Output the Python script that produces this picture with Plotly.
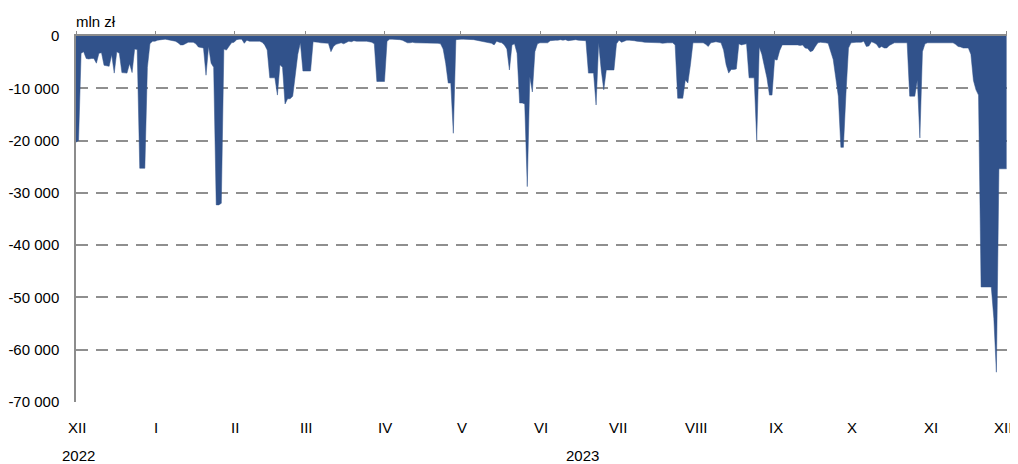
import plotly.graph_objects as go
import pandas as pd

# ---- data (mln zł, daily values) ----
start_date = "2022-12-01"

dec_2022 = [-20300, -20000, -3300, -3000, -4300, -4400, -4300, -4300, -5200, -3300,
            -3200, -5600, -5700, -5800, -3600, -7100, -3000, -3300, -7000, -7000,
            -7100, -5300, -7000, -2500, -2600, -25300, -25300, -25300, -6000, -1500,
            -1000]
jan_2023 = [-1000, -800, -700, -700, -600, -700, -800, -1000, -1000, -1300,
            -1700, -1700, -1400, -1200, -1200, -1200, -1500, -2100, -2200, -2300,
            -7500, -2000, -5200, -6000, -32300, -32300, -32000, -2500, -2700, -2000,
            -1300]
feb_2023 = [-1200, -700, -600, -600, -1400, -800, -1000, -1000, -1000, -900,
            -1000, -1200, -1700, -2700, -8000, -8000, -8000, -11300, -5500, -6000,
            -13000, -12000, -12000, -11500, -7000, -3500, -1300, -6700]
mar_2023 = [-6700, -6700, -6700, -1100, -1100, -1200, -1300, -1300, -1300, -1400,
            -3000, -2000, -1600, -1500, -1300, -1500, -1200, -1000, -1100, -900,
            -1000, -1000, -900, -1000, -1000, -1100, -1200, -1500, -8700, -8700,
            -8700]
apr_2023 = [-8700, -1000, -600, -600, -600, -600, -700, -800, -1100, -1300,
            -1300, -1200, -1300, -1300, -1400, -1300, -1300, -1300, -1400, -1300,
            -1300, -1400, -1500, -2500, -5200, -9000, -9000, -18600, -700, -600]
may_2023 = [-600, -600, -600, -700, -600, -700, -800, -900, -1000, -1100,
            -1200, -1300, -1400, -1700, -1000, -1200, -1300, -1700, -2500, -6500,
            -1700, -1500, -3300, -12800, -12800, -13000, -28800, -7800, -10700, -3000,
            -1500]
jun_2023 = [-1300, -1300, -1200, -1300, -900, -800, -800, -800, -700, -800,
            -700, -900, -800, -800, -700, -800, -800, -800, -900, -7100,
            -7100, -7100, -13200, -1300, -6500, -10300, -6500, -6500, -6500, -6500]
jul_2023 = [-1500, -800, -1200, -1000, -800, -800, -800, -900, -1000, -1000,
            -1100, -1200, -1200, -1300, -1300, -1300, -1300, -1300, -1400, -1300,
            -1300, -1300, -1300, -1700, -11900, -11900, -11900, -8400, -9000, -5500,
            -1300]
aug_2023 = [-1300, -1300, -1300, -1300, -1600, -2000, -1300, -1200, -1100, -1200,
            -1300, -2700, -5500, -7100, -6400, -6400, -6300, -1500, -1700, -1600,
            -1500, -8000, -8000, -8000, -19900, -2100, -3500, -5500, -8000, -11300,
            -11300]
sep_2023 = [-4500, -4600, -2800, -1700, -1700, -1700, -1600, -1700, -1600, -1700,
            -1800, -1700, -2300, -2400, -3000, -2800, -2000, -1300, -1200, -1200,
            -1300, -1400, -2800, -4500, -8000, -11500, -21300, -21300, -11000, -2300]
oct_2023 = [-1300, -1200, -1200, -1200, -1200, -1000, -2000, -1900, -1100, -1300,
            -1600, -2300, -2000, -2300, -2300, -1800, -1500, -1300, -1300, -1300,
            -1300, -1300, -1300, -11500, -11500, -11500, -8400, -19500, -3000, -1500,
            -1300]
nov_2023 = [-1300, -1200, -1200, -1200, -1200, -1200, -1200, -1200, -1200, -1300,
            -1600, -2000, -2100, -2300, -2300, -2300, -3500, -8500, -10300, -11300,
            -48000, -48000, -48000, -48000, -48000, -54000, -64300, -25400, -25400, -25400]
dec_2023 = [-25400]

month_starts = ["2022-12-01", "2023-01-01", "2023-02-01", "2023-03-01", "2023-04-01",
                "2023-05-01", "2023-06-01", "2023-07-01", "2023-08-01", "2023-09-01",
                "2023-10-01", "2023-11-01", "2023-12-01"]
month_labels = ["XII", "I", "II", "III", "IV", "V", "VI", "VII", "VIII", "IX", "X", "XI", "XII"]
year_positions = ["2022-12-01", "2023-06-17"]
year_labels = ["2022", "2023"]
y_ticks = [0, -10000, -20000, -30000, -40000, -50000, -60000, -70000]
y_unit = "mln zł"

values = (dec_2022 + jan_2023 + feb_2023 + mar_2023 + apr_2023 + may_2023 + jun_2023
          + jul_2023 + aug_2023 + sep_2023 + oct_2023 + nov_2023 + dec_2023)
dates = pd.date_range(start_date, periods=len(values), freq="D")

BLUE = "#31528B"
AXIS = "#8c8c8c"
GRID = "#8f8f8f"
FONT = "Liberation Sans, Arial, sans-serif"

fig = go.Figure()
fig.add_trace(go.Scatter(
    x=dates, y=values, mode="lines", fill="tozeroy",
    line=dict(color=BLUE, width=0.5), fillcolor=BLUE, hoverinfo="skip",
    showlegend=False,
))

def fmt(v):
    return f"{v:,}".replace(",", " ")

annotations = []
n_months = len(month_starts)
for i, (d, lbl) in enumerate(zip(month_starts, month_labels)):
    shift = -4 if i == n_months - 1 else 1
    annotations.append(dict(x=d, y=-0.071, xref="x", yref="paper", text=lbl,
                            showarrow=False, xanchor="center", yanchor="middle",
                            xshift=shift, font=dict(size=15, color="#000000", family=FONT)))
for d, lbl in zip(year_positions, year_labels):
    annotations.append(dict(x=d, y=-0.145, xref="x", yref="paper", text=lbl,
                            showarrow=False, xanchor="center", yanchor="middle",
                            xshift=2, font=dict(size=15, color="#000000", family=FONT)))
annotations.append(dict(x=0, y=1.04, xref="paper", yref="paper", text=y_unit,
                        showarrow=False, xanchor="left", yanchor="middle", xshift=-2,
                        font=dict(size=15, color="#000000", family=FONT)))

# the page body has an 8px default margin, so the figure is sized/offset to compensate
fig.update_layout(
    width=1010, height=456,
    margin=dict(l=68, r=11, t=28, b=62, autoexpand=False),
    paper_bgcolor="white", plot_bgcolor="white",
    font=dict(family=FONT, size=15, color="#000000"),
    xaxis=dict(
        type="date", range=["2022-12-01", "2023-12-01 04:00"],
        side="top", showline=True, linecolor=AXIS, linewidth=2,
        ticks="outside", ticklen=3, tickcolor=AXIS, tickwidth=1,
        tickvals=month_starts, showticklabels=False,
        showgrid=False, zeroline=False, automargin=False,
    ),
    yaxis=dict(
        range=[-70000, 0], tickvals=y_ticks, ticktext=[fmt(v) for v in y_ticks],
        showgrid=True, gridcolor=GRID, gridwidth=1.5, griddash="12px,8px",
        zeroline=False, showline=True, linecolor=AXIS, linewidth=1.5,
        ticks="", ticklabelstandoff=12, automargin=False,
        tickfont=dict(size=15, color="#000000", family=FONT),
    ),
    annotations=annotations,
)

fig.write_html("out.html")
